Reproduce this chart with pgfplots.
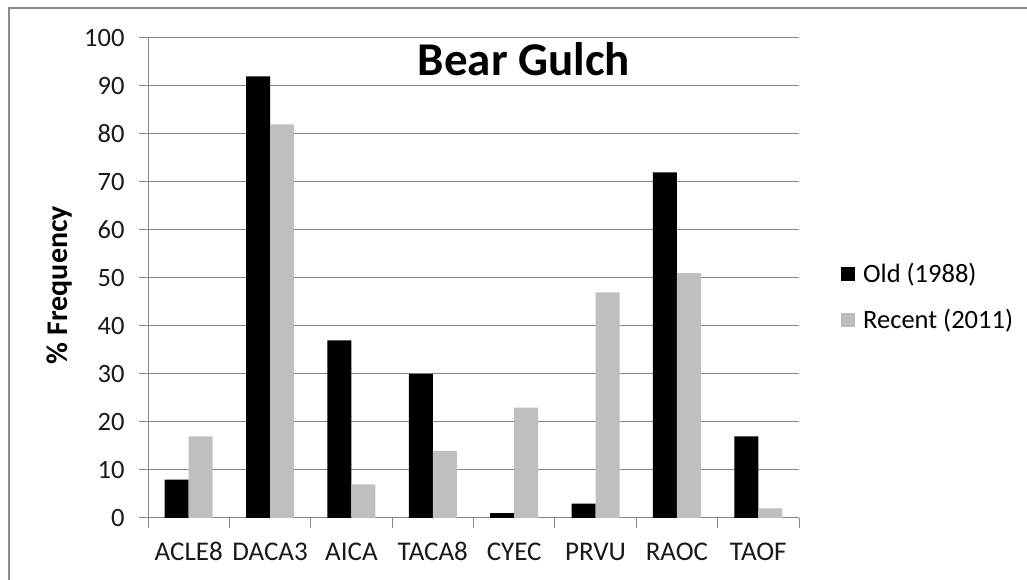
\documentclass[border=0pt]{standalone}
\usepackage{fontspec}
\setmainfont{Carlito}
\usepackage{pgfplots}
\pgfplotsset{compat=1.18}
\definecolor{gridgrey}{HTML}{878787}
\definecolor{bargrey}{HTML}{BFBFBF}
\definecolor{framegrey}{HTML}{8C8C8C}
\begin{document}
\begin{tikzpicture}[x=1pt,y=1pt]
\path[use as bounding box] (0,0) rectangle (1027,580);
\draw[framegrey, line width=2pt] (9,0) -- (9,572) -- (1027,572);
\begin{axis}[
  at={(148pt,62pt)}, anchor=south west,
  scale only axis, width=651pt, height=480pt,
  ybar=0pt, bar width=24pt,
  xmin=0.5, xmax=8.5, ymin=0, ymax=100,
  xtick={1,...,8},
  xticklabels={ACLE8,DACA3,AICA,TACA8,CYEC,PRVU,RAOC,TAOF},
  minor xtick={0.5,1.5,...,8.5},
  ytick={0,10,...,100},
  ymajorgrids, grid style={gridgrey, line width=1pt},
  axis x line*=bottom, axis y line*=left,
  axis line style={gridgrey, line width=1pt, -},
  tick align=outside,
  major tick length=9pt, minor tick length=10pt,
  xtick style={draw=none},
  minor x tick style={draw=gridgrey, line width=1pt},
  ytick style={gridgrey, line width=1pt},
  /pgf/number format/assume math mode=true,
  ticklabel style={text=black!90},
  xticklabel style={font=\fontsize{27}{32}\selectfont, text height=18pt, text depth=0pt, yshift=-12pt},
  yticklabel style={font=\fontsize{26.5}{32}\selectfont, xshift=-11pt},
  legend image code/.code={\fill[#1] (0pt,-7pt) rectangle (14pt,7pt); \path (20pt,0pt);},
  legend style={draw=none, fill=none, at={(1.0645,0.461)}, anchor=west,
    font=\fontsize{26.5}{30}\selectfont, inner sep=0pt,
    row sep=21pt, nodes={inner sep=2pt}},
  legend cell align=left,
  clip=false,
]
\addplot[fill=black, draw=none] coordinates {(1,8) (2,92) (3,37) (4,30) (5,1) (6,3) (7,72) (8,17)};
\addplot[fill=bargrey, draw=none] coordinates {(1,17) (2,82) (3,7) (4,14) (5,23) (6,47) (7,51) (8,2)};
\legend{Old (1988), Recent (2011)}
\end{axis}
\node[font=\fontsize{47}{52}\selectfont\bfseries] at (524,521) {Bear Gulch};
\node[font=\fontsize{30}{34}\selectfont\bfseries, rotate=90] at (60,295) {\% Frequency};
\end{tikzpicture}
\end{document}
